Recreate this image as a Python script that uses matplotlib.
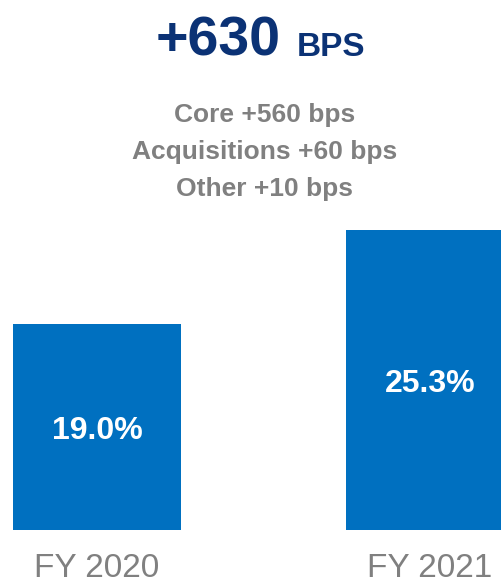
import matplotlib
matplotlib.use('Agg')
from matplotlib import pyplot as plt
from matplotlib import font_manager

# 数据
years = ['FY 2020', 'FY 2021']
margins = [19.0, 25.3]
headline = '+630'
headline_unit = 'BPS'
drivers = ['Core +560 bps', 'Acquisitions +60 bps', 'Other +10 bps']

names = {f.name for f in font_manager.fontManager.ttflist}
fam = 'Liberation Sans Narrow' if 'Liberation Sans Narrow' in names else 'Liberation Sans'
plt.rcParams['font.family'] = [fam, 'DejaVu Sans']

W, H = 502, 584
fig = plt.figure(figsize=(W / 100, H / 100), dpi=100)

blue = '#0070C0'
navy = '#0B3275'
gray = '#808080'

# 坐标轴: 底部 y=530px, 顶部 y=230px
ax = fig.add_axes([0, (H - 530) / H, 1, 300 / H])
x = [0, 1]
ax.bar(x, margins, width=0.504, color=blue)
ax.set_xlim(-0.291, 1.216)
ax.set_ylim(5.2, 25.3)
ax.axis('off')

for xi, v in zip(x, margins):
    ax.annotate('%.1f%%' % v, (xi, (v + 5.2) / 2), xytext=(0, -3),
                textcoords='offset points', ha='center', va='center',
                color='white', fontsize=23, fontweight='bold')

for xi, lab in zip(x, years):
    ax.annotate(lab, (xi, 5.2), xytext=(0, -34), textcoords='offset points',
                ha='center', va='baseline', color=gray, fontsize=24)


def fx(px):
    return px / W


def fy(py):
    return 1 - py / H


# 标题
fig.text(fx(281), fy(56), headline, ha='right', va='baseline', color=navy,
         fontsize=40, fontweight='bold')
fig.text(fx(297), fy(56), headline_unit, ha='left', va='baseline', color=navy,
         fontsize=24, fontweight='bold')

# 副标题
for i, line in enumerate(drivers):
    fig.text(fx(265), fy(122 + i * 37), line, ha='center', va='baseline',
             color=gray, fontsize=19, fontweight='bold')

fig.savefig('out.png', dpi=100)
